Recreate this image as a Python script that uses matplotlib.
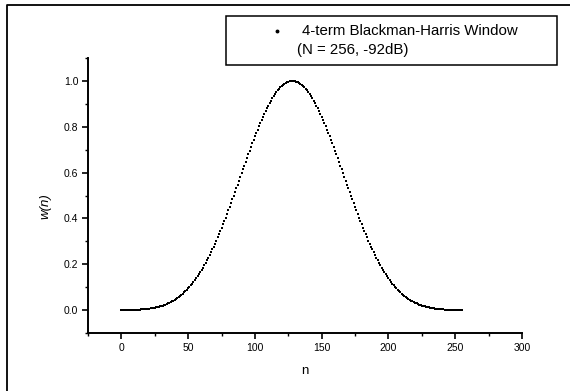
import matplotlib
matplotlib.use("Agg")
import matplotlib.pyplot as plt
from matplotlib.lines import Line2D
from matplotlib.patches import Rectangle
import numpy as np

plt.rcParams['font.family'] = ['Liberation Sans', 'DejaVu Sans']

# sample index and window value (N = 256)
n = np.arange(256)
w = [
    0.0001, 0.0001, 0.0001, 0.0001, 0.0002, 0.0003, 0.0004, 0.0005, 0.0007, 0.0008,
    0.0010, 0.0013, 0.0015, 0.0019, 0.0022, 0.0026, 0.0031, 0.0036, 0.0041, 0.0048,
    0.0055, 0.0062, 0.0071, 0.0081, 0.0091, 0.0102, 0.0115, 0.0129, 0.0144, 0.0160,
    0.0178, 0.0197, 0.0217, 0.0240, 0.0264, 0.0290, 0.0317, 0.0347, 0.0379, 0.0413,
    0.0449, 0.0487, 0.0528, 0.0571, 0.0617, 0.0666, 0.0717, 0.0771, 0.0828, 0.0888,
    0.0951, 0.1017, 0.1086, 0.1158, 0.1234, 0.1312, 0.1395, 0.1480, 0.1569, 0.1661,
    0.1757, 0.1856, 0.1959, 0.2065, 0.2175, 0.2288, 0.2404, 0.2524, 0.2647, 0.2773,
    0.2902, 0.3034, 0.3170, 0.3308, 0.3450, 0.3593, 0.3740, 0.3889, 0.4040, 0.4194,
    0.4349, 0.4507, 0.4666, 0.4826, 0.4988, 0.5151, 0.5315, 0.5480, 0.5645, 0.5811,
    0.5976, 0.6142, 0.6307, 0.6471, 0.6634, 0.6797, 0.6958, 0.7117, 0.7274, 0.7430,
    0.7583, 0.7733, 0.7880, 0.8024, 0.8165, 0.8303, 0.8436, 0.8565, 0.8690, 0.8811,
    0.8926, 0.9037, 0.9142, 0.9243, 0.9337, 0.9426, 0.9509, 0.9586, 0.9657, 0.9721,
    0.9779, 0.9830, 0.9875, 0.9913, 0.9944, 0.9969, 0.9986, 0.9997, 1.0000, 0.9997,
    0.9986, 0.9969, 0.9944, 0.9913, 0.9875, 0.9830, 0.9779, 0.9721, 0.9657, 0.9586,
    0.9509, 0.9426, 0.9337, 0.9243, 0.9142, 0.9037, 0.8926, 0.8811, 0.8690, 0.8565,
    0.8436, 0.8303, 0.8165, 0.8024, 0.7880, 0.7733, 0.7583, 0.7430, 0.7274, 0.7117,
    0.6958, 0.6797, 0.6634, 0.6471, 0.6307, 0.6142, 0.5976, 0.5811, 0.5645, 0.5480,
    0.5315, 0.5151, 0.4988, 0.4826, 0.4666, 0.4507, 0.4349, 0.4194, 0.4040, 0.3889,
    0.3740, 0.3593, 0.3450, 0.3308, 0.3170, 0.3034, 0.2902, 0.2773, 0.2647, 0.2524,
    0.2404, 0.2288, 0.2175, 0.2065, 0.1959, 0.1856, 0.1757, 0.1661, 0.1569, 0.1480,
    0.1395, 0.1312, 0.1234, 0.1158, 0.1086, 0.1017, 0.0951, 0.0888, 0.0828, 0.0771,
    0.0717, 0.0666, 0.0617, 0.0571, 0.0528, 0.0487, 0.0449, 0.0413, 0.0379, 0.0347,
    0.0317, 0.0290, 0.0264, 0.0240, 0.0217, 0.0197, 0.0178, 0.0160, 0.0144, 0.0129,
    0.0115, 0.0102, 0.0091, 0.0081, 0.0071, 0.0062, 0.0055, 0.0048, 0.0041, 0.0036,
    0.0031, 0.0026, 0.0022, 0.0019, 0.0015, 0.0013, 0.0010, 0.0008, 0.0007, 0.0005,
    0.0004, 0.0003, 0.0002, 0.0001, 0.0001, 0.0001,
]
legend_line1 = "4-term Blackman-Harris Window"
legend_line2 = "(N = 256, -92dB)"
x_ticks = [0, 50, 100, 150, 200, 250, 300]
y_ticks = [0.0, 0.2, 0.4, 0.6, 0.8, 1.0]

W, H = 570, 391
fig = plt.figure(figsize=(W / 100, H / 100), dpi=100)
ax = fig.add_axes([88 / W, 1 - 333 / H, 434 / W, 275 / H])

ax.plot(n, w, linestyle='none', marker='s', markersize=2.0, color='black',
        markeredgewidth=0)

ax.set_xlim(-25, 300)
ax.set_ylim(-0.1, 1.1)
ax.set_xticks(x_ticks)
ax.set_xticks(np.arange(-25, 301, 25), minor=True)
ax.set_yticks(y_ticks)
ax.set_yticks(np.arange(-0.1, 1.11, 0.1), minor=True)
ax.set_yticklabels(["%.1f" % v for v in y_ticks])

for side in ['top', 'right']:
    ax.spines[side].set_visible(False)
for side in ['left', 'bottom']:
    ax.spines[side].set_linewidth(1.4)
ax.tick_params(which='major', direction='out', length=4, width=1.2, labelsize=7.5, pad=3)
ax.tick_params(which='minor', direction='out', length=2, width=1.0)

ax.set_xlabel("n", fontsize=9.5)
ax.xaxis.set_label_coords(0.5, -0.115)
ax.set_ylabel("w(n)", fontsize=9.5, style='italic')
ax.yaxis.set_label_coords(-0.085, 0.46)

# legend box drawn in figure pixels
fig.patches.append(Rectangle((226 / W, 1 - 65 / H), (557 - 226) / W, (65 - 16) / H,
                             transform=fig.transFigure, fill=False,
                             edgecolor='black', linewidth=1.1))
fig.add_artist(Line2D([277 / W], [1 - 31 / H], transform=fig.transFigure,
                      marker='o', markersize=1.8, color='black', linestyle='none'))
fig.text(302 / W, 1 - 31 / H, legend_line1, fontsize=10.8, va='center', ha='left')
fig.text(297 / W, 1 - 50 / H, legend_line2, fontsize=10.8, va='center', ha='left')

# page frame (top and left edges of the scanned page)
fig.add_artist(Line2D([7 / W, 7 / W, 1.0], [0.0, 1 - 5 / H, 1 - 5 / H],
                      transform=fig.transFigure, color='black', linewidth=1.3))

fig.savefig("out.png", dpi=100)
